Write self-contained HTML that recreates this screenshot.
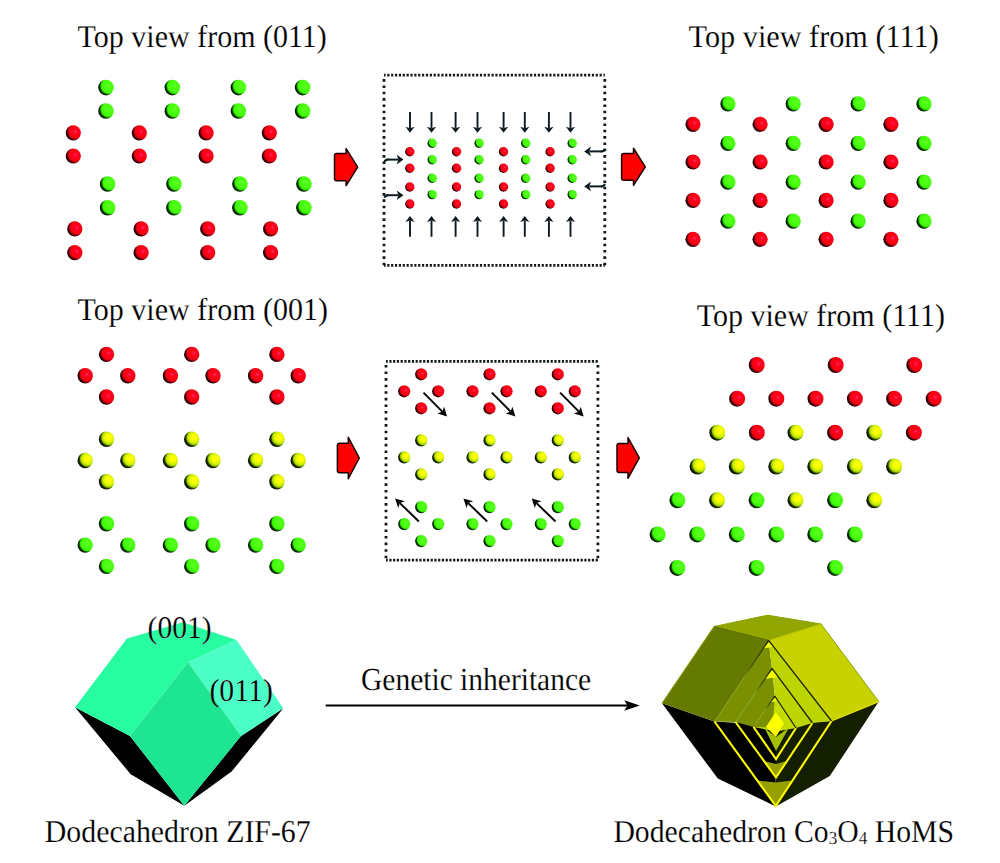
<!DOCTYPE html><html><head><meta charset="utf-8"><style>html,body{margin:0;padding:0;background:#fff;}svg{display:block;}text{font-family:"Liberation Serif",serif;text-rendering:geometricPrecision;stroke:#fff;stroke-width:0.15px;}</style></head><body>
<svg width="1000" height="863" viewBox="0 0 1000 863">
<defs>
<radialGradient id="gG" cx="0.66" cy="0.4" r="0.6" fx="0.66" fy="0.4"><stop offset="0" stop-color="#5cff20"/><stop offset="0.7" stop-color="#40ff08"/><stop offset="0.8" stop-color="#30d800"/><stop offset="0.9" stop-color="#0e5a00"/><stop offset="1" stop-color="#032000"/></radialGradient>
<radialGradient id="gR" cx="0.66" cy="0.4" r="0.6" fx="0.62" fy="0.42"><stop offset="0" stop-color="#ff3a80"/><stop offset="0.12" stop-color="#ff1040"/><stop offset="0.3" stop-color="#ff0018"/><stop offset="0.7" stop-color="#f40010"/><stop offset="0.8" stop-color="#c80012"/><stop offset="0.9" stop-color="#6a000c"/><stop offset="1" stop-color="#280004"/></radialGradient>
<radialGradient id="gY" cx="0.66" cy="0.4" r="0.6" fx="0.64" fy="0.38"><stop offset="0" stop-color="#ffff00"/><stop offset="0.3" stop-color="#faff00"/><stop offset="0.58" stop-color="#d0f000"/><stop offset="0.76" stop-color="#9ccc00"/><stop offset="0.88" stop-color="#304c00"/><stop offset="1" stop-color="#0a1600"/></radialGradient>
<linearGradient id="rimT" x1="1" y1="0" x2="0" y2="1"><stop offset="0" stop-color="#1c2400"/><stop offset="0.7" stop-color="#1c2400" stop-opacity="0.6"/><stop offset="1" stop-color="#1c2400" stop-opacity="0"/></linearGradient>
</defs>
<rect width="1000" height="863" fill="#fff"/>
<text transform="translate(77.6,46.9) scale(1.0,1.06)" font-size="30">Top view from (011)</text>
<text transform="translate(688.6,46.7) scale(1.008,1.06)" font-size="30">Top view from (111)</text>
<text transform="translate(77.6,320) scale(1.0,1.06)" font-size="30">Top view from (001)</text>
<text transform="translate(696.8,325.5) scale(1.0,1.06)" font-size="30">Top view from (111)</text>
<path d="M336.7,153.5 L346.1,153.5 L346.1,148.54999999999998 L357.7,167.1 L346.1,185.65 L346.1,180.7 L336.7,180.7 Q334.5,180.7 334.5,178.5 L334.5,155.7 Q334.5,153.5 336.7,153.5Z" fill="#ff0000" stroke="#1a0000" stroke-width="1.5" stroke-linejoin="round"/>
<path d="M623.8000000000001,153.4 L633.5,153.4 L633.5,148.20000000000002 L645.3,166.8 L633.5,185.4 L633.5,180.20000000000002 L623.8000000000001,180.20000000000002 Q621.6,180.20000000000002 621.6,178.00000000000003 L621.6,155.6 Q621.6,153.4 623.8000000000001,153.4Z" fill="#ff0000" stroke="#1a0000" stroke-width="1.5" stroke-linejoin="round"/>
<path d="M339.59999999999997,443.3 L348.3,443.3 L348.3,437.3 L359.3,458.0 L348.3,478.7 L348.3,472.7 L339.59999999999997,472.7 Q337.4,472.7 337.4,470.5 L337.4,445.5 Q337.4,443.3 339.59999999999997,443.3Z" fill="#ff0000" stroke="#1a0000" stroke-width="1.5" stroke-linejoin="round"/>
<path d="M619.2,443.4 L628.0,443.4 L628.0,437.5 L639.3,457.9 L628.0,478.29999999999995 L628.0,472.4 L619.2,472.4 Q617.0,472.4 617.0,470.2 L617.0,445.59999999999997 Q617.0,443.4 619.2,443.4Z" fill="#ff0000" stroke="#1a0000" stroke-width="1.5" stroke-linejoin="round"/>
<path d="M384,75.2 H604.8" stroke="#101818" fill="none" stroke-width="2.7" stroke-dasharray="2.2 1.66" stroke-dashoffset="0.60"/><path d="M384,265.4 H604.8" stroke="#101818" fill="none" stroke-width="2.7" stroke-dasharray="2.2 1.66" stroke-dashoffset="0.60"/><path d="M384,75.2 V265.4" stroke="#101818" fill="none" stroke-width="2.8" stroke-dasharray="2.6 3.73" stroke-dashoffset="2.43"/><path d="M604.8,75.2 V265.4" stroke="#101818" fill="none" stroke-width="2.8" stroke-dasharray="2.6 3.73" stroke-dashoffset="2.43"/>
<path d="M386,361.3 H597.9" stroke="#101818" fill="none" stroke-width="2.7" stroke-dasharray="2.2 1.55" stroke-dashoffset="0.40"/><path d="M386,560.1 H597.9" stroke="#101818" fill="none" stroke-width="2.7" stroke-dasharray="2.2 1.55" stroke-dashoffset="0.40"/><path d="M386,361.3 V560.1" stroke="#101818" fill="none" stroke-width="2.8" stroke-dasharray="2.6 3.98" stroke-dashoffset="2.98"/><path d="M597.9,361.3 V560.1" stroke="#101818" fill="none" stroke-width="2.8" stroke-dasharray="2.6 3.98" stroke-dashoffset="2.98"/>
<line x1="410.0" y1="112.0" x2="410.0" y2="128.3" stroke="#0e1a20" stroke-width="1.9"/><path d="M410.0,132.8 L405.4,126.8 L410.0,128.3 L414.6,126.8Z" fill="#0e1a20"/>
<line x1="410.0" y1="236.8" x2="410.0" y2="220.5" stroke="#0e1a20" stroke-width="1.9"/><path d="M410.0,216.0 L414.6,222.0 L410.0,220.5 L405.4,222.0Z" fill="#0e1a20"/>
<line x1="431.5" y1="112.0" x2="431.5" y2="128.3" stroke="#0e1a20" stroke-width="1.9"/><path d="M431.5,132.8 L426.9,126.8 L431.5,128.3 L436.1,126.8Z" fill="#0e1a20"/>
<line x1="431.5" y1="236.8" x2="431.5" y2="220.5" stroke="#0e1a20" stroke-width="1.9"/><path d="M431.5,216.0 L436.1,222.0 L431.5,220.5 L426.9,222.0Z" fill="#0e1a20"/>
<line x1="455.6" y1="112.0" x2="455.6" y2="128.3" stroke="#0e1a20" stroke-width="1.9"/><path d="M455.6,132.8 L451.0,126.8 L455.6,128.3 L460.2,126.8Z" fill="#0e1a20"/>
<line x1="455.6" y1="236.8" x2="455.6" y2="220.5" stroke="#0e1a20" stroke-width="1.9"/><path d="M455.6,216.0 L460.2,222.0 L455.6,220.5 L451.0,222.0Z" fill="#0e1a20"/>
<line x1="477.5" y1="112.0" x2="477.5" y2="128.3" stroke="#0e1a20" stroke-width="1.9"/><path d="M477.5,132.8 L472.9,126.8 L477.5,128.3 L482.1,126.8Z" fill="#0e1a20"/>
<line x1="477.5" y1="236.8" x2="477.5" y2="220.5" stroke="#0e1a20" stroke-width="1.9"/><path d="M477.5,216.0 L482.1,222.0 L477.5,220.5 L472.9,222.0Z" fill="#0e1a20"/>
<line x1="503.6" y1="112.0" x2="503.6" y2="128.3" stroke="#0e1a20" stroke-width="1.9"/><path d="M503.6,132.8 L499.0,126.8 L503.6,128.3 L508.2,126.8Z" fill="#0e1a20"/>
<line x1="503.6" y1="236.8" x2="503.6" y2="220.5" stroke="#0e1a20" stroke-width="1.9"/><path d="M503.6,216.0 L508.2,222.0 L503.6,220.5 L499.0,222.0Z" fill="#0e1a20"/>
<line x1="524.8" y1="112.0" x2="524.8" y2="128.3" stroke="#0e1a20" stroke-width="1.9"/><path d="M524.8,132.8 L520.2,126.8 L524.8,128.3 L529.4,126.8Z" fill="#0e1a20"/>
<line x1="524.8" y1="236.8" x2="524.8" y2="220.5" stroke="#0e1a20" stroke-width="1.9"/><path d="M524.8,216.0 L529.4,222.0 L524.8,220.5 L520.2,222.0Z" fill="#0e1a20"/>
<line x1="548.9" y1="112.0" x2="548.9" y2="128.3" stroke="#0e1a20" stroke-width="1.9"/><path d="M548.9,132.8 L544.3,126.8 L548.9,128.3 L553.5,126.8Z" fill="#0e1a20"/>
<line x1="548.9" y1="236.8" x2="548.9" y2="220.5" stroke="#0e1a20" stroke-width="1.9"/><path d="M548.9,216.0 L553.5,222.0 L548.9,220.5 L544.3,222.0Z" fill="#0e1a20"/>
<line x1="570.5" y1="112.0" x2="570.5" y2="128.3" stroke="#0e1a20" stroke-width="1.9"/><path d="M570.5,132.8 L565.9,126.8 L570.5,128.3 L575.1,126.8Z" fill="#0e1a20"/>
<line x1="570.5" y1="236.8" x2="570.5" y2="220.5" stroke="#0e1a20" stroke-width="1.9"/><path d="M570.5,216.0 L575.1,222.0 L570.5,220.5 L565.9,222.0Z" fill="#0e1a20"/>
<line x1="386.5" y1="159.6" x2="398.4" y2="159.6" stroke="#0e1a20" stroke-width="2.0"/><path d="M403.5,159.6 L396.7,164.4 L398.4,159.6 L396.7,154.8Z" fill="#0e1a20"/>
<path d="M388.5,159.6 Q384.6,159.6 384.6,162.2" stroke="#0e1a20" stroke-width="2.0" fill="none"/>
<line x1="386.5" y1="195.2" x2="398.4" y2="195.2" stroke="#0e1a20" stroke-width="2.0"/><path d="M403.5,195.2 L396.7,200.0 L398.4,195.2 L396.7,190.4Z" fill="#0e1a20"/>
<path d="M388.5,195.2 Q384.6,195.2 384.6,197.79999999999998" stroke="#0e1a20" stroke-width="2.0" fill="none"/>
<line x1="602.5" y1="151.4" x2="589.3" y2="151.4" stroke="#0e1a20" stroke-width="2.0"/><path d="M584.2,151.4 L591.0,146.6 L589.3,151.4 L591.0,156.2Z" fill="#0e1a20"/>
<path d="M600.8,151.4 Q604.7,151.4 604.7,148.8" stroke="#0e1a20" stroke-width="2.0" fill="none"/>
<line x1="602.5" y1="186.4" x2="589.3" y2="186.4" stroke="#0e1a20" stroke-width="2.0"/><path d="M584.2,186.4 L591.0,181.6 L589.3,186.4 L591.0,191.2Z" fill="#0e1a20"/>
<path d="M600.8,186.4 Q604.7,186.4 604.7,183.8" stroke="#0e1a20" stroke-width="2.0" fill="none"/>
<line x1="423.5" y1="392.6" x2="442.3" y2="411.6" stroke="#080808" stroke-width="2.0"/><path d="M447.1,416.4 L437.4,413.4 L442.3,411.6 L444.1,406.7Z" fill="#080808"/>
<line x1="418.9" y1="521.5" x2="399.9" y2="503.1" stroke="#080808" stroke-width="2.0"/><path d="M395.1,498.4 L404.9,501.3 L399.9,503.1 L398.2,508.1Z" fill="#080808"/>
<line x1="491.8" y1="392.6" x2="510.6" y2="411.6" stroke="#080808" stroke-width="2.0"/><path d="M515.4,416.4 L505.7,413.4 L510.6,411.6 L512.4,406.7Z" fill="#080808"/>
<line x1="487.2" y1="521.5" x2="468.2" y2="503.1" stroke="#080808" stroke-width="2.0"/><path d="M463.4,498.4 L473.2,501.3 L468.2,503.1 L466.5,508.1Z" fill="#080808"/>
<line x1="560.1" y1="392.6" x2="578.9" y2="411.6" stroke="#080808" stroke-width="2.0"/><path d="M583.7,416.4 L574.0,413.4 L578.9,411.6 L580.7,406.7Z" fill="#080808"/>
<line x1="555.5" y1="521.5" x2="536.5" y2="503.1" stroke="#080808" stroke-width="2.0"/><path d="M531.7,498.4 L541.5,501.3 L536.5,503.1 L534.8,508.1Z" fill="#080808"/>
<circle cx="106.0" cy="87.6" r="7.8" fill="url(#gG)"/>
<circle cx="172.3" cy="87.6" r="7.8" fill="url(#gG)"/>
<circle cx="238.4" cy="87.6" r="7.8" fill="url(#gG)"/>
<circle cx="302.6" cy="87.6" r="7.8" fill="url(#gG)"/>
<circle cx="106.0" cy="111.0" r="7.8" fill="url(#gG)"/>
<circle cx="172.3" cy="111.0" r="7.8" fill="url(#gG)"/>
<circle cx="238.4" cy="111.0" r="7.8" fill="url(#gG)"/>
<circle cx="302.6" cy="111.0" r="7.8" fill="url(#gG)"/>
<circle cx="73.3" cy="132.8" r="7.6" fill="url(#gR)"/>
<circle cx="139.3" cy="132.8" r="7.6" fill="url(#gR)"/>
<circle cx="206.1" cy="132.8" r="7.6" fill="url(#gR)"/>
<circle cx="269.3" cy="132.8" r="7.6" fill="url(#gR)"/>
<circle cx="73.3" cy="156.0" r="7.6" fill="url(#gR)"/>
<circle cx="139.3" cy="156.0" r="7.6" fill="url(#gR)"/>
<circle cx="206.1" cy="156.0" r="7.6" fill="url(#gR)"/>
<circle cx="269.3" cy="156.0" r="7.6" fill="url(#gR)"/>
<circle cx="107.6" cy="184.0" r="7.8" fill="url(#gG)"/>
<circle cx="173.9" cy="184.0" r="7.8" fill="url(#gG)"/>
<circle cx="239.9" cy="184.0" r="7.8" fill="url(#gG)"/>
<circle cx="303.9" cy="184.0" r="7.8" fill="url(#gG)"/>
<circle cx="107.6" cy="207.7" r="7.8" fill="url(#gG)"/>
<circle cx="173.9" cy="207.7" r="7.8" fill="url(#gG)"/>
<circle cx="239.9" cy="207.7" r="7.8" fill="url(#gG)"/>
<circle cx="303.9" cy="207.7" r="7.8" fill="url(#gG)"/>
<circle cx="74.8" cy="228.9" r="7.6" fill="url(#gR)"/>
<circle cx="141.1" cy="228.9" r="7.6" fill="url(#gR)"/>
<circle cx="207.7" cy="228.9" r="7.6" fill="url(#gR)"/>
<circle cx="270.6" cy="228.9" r="7.6" fill="url(#gR)"/>
<circle cx="74.8" cy="252.6" r="7.6" fill="url(#gR)"/>
<circle cx="141.1" cy="252.6" r="7.6" fill="url(#gR)"/>
<circle cx="207.7" cy="252.6" r="7.6" fill="url(#gR)"/>
<circle cx="270.6" cy="252.6" r="7.6" fill="url(#gR)"/>
<circle cx="409.8" cy="151.8" r="4.7" fill="url(#gR)"/>
<circle cx="409.8" cy="168.3" r="4.7" fill="url(#gR)"/>
<circle cx="409.8" cy="187.0" r="4.7" fill="url(#gR)"/>
<circle cx="409.8" cy="204.0" r="4.7" fill="url(#gR)"/>
<circle cx="456.5" cy="151.8" r="4.7" fill="url(#gR)"/>
<circle cx="456.5" cy="168.3" r="4.7" fill="url(#gR)"/>
<circle cx="456.5" cy="187.0" r="4.7" fill="url(#gR)"/>
<circle cx="456.5" cy="204.0" r="4.7" fill="url(#gR)"/>
<circle cx="503.5" cy="151.8" r="4.7" fill="url(#gR)"/>
<circle cx="503.5" cy="168.3" r="4.7" fill="url(#gR)"/>
<circle cx="503.5" cy="187.0" r="4.7" fill="url(#gR)"/>
<circle cx="503.5" cy="204.0" r="4.7" fill="url(#gR)"/>
<circle cx="550.1" cy="151.8" r="4.7" fill="url(#gR)"/>
<circle cx="550.1" cy="168.3" r="4.7" fill="url(#gR)"/>
<circle cx="550.1" cy="187.0" r="4.7" fill="url(#gR)"/>
<circle cx="550.1" cy="204.0" r="4.7" fill="url(#gR)"/>
<circle cx="432.2" cy="143.2" r="4.7" fill="url(#gG)"/>
<circle cx="432.2" cy="159.8" r="4.7" fill="url(#gG)"/>
<circle cx="432.2" cy="178.3" r="4.7" fill="url(#gG)"/>
<circle cx="432.2" cy="194.6" r="4.7" fill="url(#gG)"/>
<circle cx="479.1" cy="143.2" r="4.7" fill="url(#gG)"/>
<circle cx="479.1" cy="159.8" r="4.7" fill="url(#gG)"/>
<circle cx="479.1" cy="178.3" r="4.7" fill="url(#gG)"/>
<circle cx="479.1" cy="194.6" r="4.7" fill="url(#gG)"/>
<circle cx="525.7" cy="143.2" r="4.7" fill="url(#gG)"/>
<circle cx="525.7" cy="159.8" r="4.7" fill="url(#gG)"/>
<circle cx="525.7" cy="178.3" r="4.7" fill="url(#gG)"/>
<circle cx="525.7" cy="194.6" r="4.7" fill="url(#gG)"/>
<circle cx="572.2" cy="143.2" r="4.7" fill="url(#gG)"/>
<circle cx="572.2" cy="159.8" r="4.7" fill="url(#gG)"/>
<circle cx="572.2" cy="178.3" r="4.7" fill="url(#gG)"/>
<circle cx="572.2" cy="194.6" r="4.7" fill="url(#gG)"/>
<circle cx="727.9" cy="103.9" r="7.6" fill="url(#gG)"/>
<circle cx="727.9" cy="143.4" r="7.6" fill="url(#gG)"/>
<circle cx="727.9" cy="182.2" r="7.6" fill="url(#gG)"/>
<circle cx="727.9" cy="221.2" r="7.6" fill="url(#gG)"/>
<circle cx="793.2" cy="103.9" r="7.6" fill="url(#gG)"/>
<circle cx="793.2" cy="143.4" r="7.6" fill="url(#gG)"/>
<circle cx="793.2" cy="182.2" r="7.6" fill="url(#gG)"/>
<circle cx="793.2" cy="221.2" r="7.6" fill="url(#gG)"/>
<circle cx="858.1" cy="103.9" r="7.6" fill="url(#gG)"/>
<circle cx="858.1" cy="143.4" r="7.6" fill="url(#gG)"/>
<circle cx="858.1" cy="182.2" r="7.6" fill="url(#gG)"/>
<circle cx="858.1" cy="221.2" r="7.6" fill="url(#gG)"/>
<circle cx="924.0" cy="103.9" r="7.6" fill="url(#gG)"/>
<circle cx="924.0" cy="143.4" r="7.6" fill="url(#gG)"/>
<circle cx="924.0" cy="182.2" r="7.6" fill="url(#gG)"/>
<circle cx="924.0" cy="221.2" r="7.6" fill="url(#gG)"/>
<circle cx="693.0" cy="124.3" r="7.6" fill="url(#gR)"/>
<circle cx="693.0" cy="162.0" r="7.6" fill="url(#gR)"/>
<circle cx="693.0" cy="200.4" r="7.6" fill="url(#gR)"/>
<circle cx="693.0" cy="239.3" r="7.6" fill="url(#gR)"/>
<circle cx="760.1" cy="124.3" r="7.6" fill="url(#gR)"/>
<circle cx="760.1" cy="162.0" r="7.6" fill="url(#gR)"/>
<circle cx="760.1" cy="200.4" r="7.6" fill="url(#gR)"/>
<circle cx="760.1" cy="239.3" r="7.6" fill="url(#gR)"/>
<circle cx="826.1" cy="124.3" r="7.6" fill="url(#gR)"/>
<circle cx="826.1" cy="162.0" r="7.6" fill="url(#gR)"/>
<circle cx="826.1" cy="200.4" r="7.6" fill="url(#gR)"/>
<circle cx="826.1" cy="239.3" r="7.6" fill="url(#gR)"/>
<circle cx="890.9" cy="124.3" r="7.6" fill="url(#gR)"/>
<circle cx="890.9" cy="162.0" r="7.6" fill="url(#gR)"/>
<circle cx="890.9" cy="200.4" r="7.6" fill="url(#gR)"/>
<circle cx="890.9" cy="239.3" r="7.6" fill="url(#gR)"/>
<circle cx="106.5" cy="354.4" r="7.7" fill="url(#gR)"/>
<circle cx="85.2" cy="375.7" r="7.7" fill="url(#gR)"/>
<circle cx="127.8" cy="375.7" r="7.7" fill="url(#gR)"/>
<circle cx="106.5" cy="397.0" r="7.7" fill="url(#gR)"/>
<circle cx="191.7" cy="354.4" r="7.7" fill="url(#gR)"/>
<circle cx="170.4" cy="375.7" r="7.7" fill="url(#gR)"/>
<circle cx="213.0" cy="375.7" r="7.7" fill="url(#gR)"/>
<circle cx="191.7" cy="397.0" r="7.7" fill="url(#gR)"/>
<circle cx="276.9" cy="354.4" r="7.7" fill="url(#gR)"/>
<circle cx="255.6" cy="375.7" r="7.7" fill="url(#gR)"/>
<circle cx="298.2" cy="375.7" r="7.7" fill="url(#gR)"/>
<circle cx="276.9" cy="397.0" r="7.7" fill="url(#gR)"/>
<circle cx="106.5" cy="439.2" r="7.7" fill="url(#gY)"/>
<circle cx="85.2" cy="460.5" r="7.7" fill="url(#gY)"/>
<circle cx="127.8" cy="460.5" r="7.7" fill="url(#gY)"/>
<circle cx="106.5" cy="481.8" r="7.7" fill="url(#gY)"/>
<circle cx="191.7" cy="439.2" r="7.7" fill="url(#gY)"/>
<circle cx="170.4" cy="460.5" r="7.7" fill="url(#gY)"/>
<circle cx="213.0" cy="460.5" r="7.7" fill="url(#gY)"/>
<circle cx="191.7" cy="481.8" r="7.7" fill="url(#gY)"/>
<circle cx="276.9" cy="439.2" r="7.7" fill="url(#gY)"/>
<circle cx="255.6" cy="460.5" r="7.7" fill="url(#gY)"/>
<circle cx="298.2" cy="460.5" r="7.7" fill="url(#gY)"/>
<circle cx="276.9" cy="481.8" r="7.7" fill="url(#gY)"/>
<circle cx="106.5" cy="523.8" r="7.7" fill="url(#gG)"/>
<circle cx="85.2" cy="545.1" r="7.7" fill="url(#gG)"/>
<circle cx="127.8" cy="545.1" r="7.7" fill="url(#gG)"/>
<circle cx="106.5" cy="566.4" r="7.7" fill="url(#gG)"/>
<circle cx="191.7" cy="523.8" r="7.7" fill="url(#gG)"/>
<circle cx="170.4" cy="545.1" r="7.7" fill="url(#gG)"/>
<circle cx="213.0" cy="545.1" r="7.7" fill="url(#gG)"/>
<circle cx="191.7" cy="566.4" r="7.7" fill="url(#gG)"/>
<circle cx="276.9" cy="523.8" r="7.7" fill="url(#gG)"/>
<circle cx="255.6" cy="545.1" r="7.7" fill="url(#gG)"/>
<circle cx="298.2" cy="545.1" r="7.7" fill="url(#gG)"/>
<circle cx="276.9" cy="566.4" r="7.7" fill="url(#gG)"/>
<circle cx="421.2" cy="374.3" r="6.1" fill="url(#gR)"/>
<circle cx="404.2" cy="391.3" r="6.1" fill="url(#gR)"/>
<circle cx="438.2" cy="391.3" r="6.1" fill="url(#gR)"/>
<circle cx="421.2" cy="408.3" r="6.1" fill="url(#gR)"/>
<circle cx="489.5" cy="374.3" r="6.1" fill="url(#gR)"/>
<circle cx="472.5" cy="391.3" r="6.1" fill="url(#gR)"/>
<circle cx="506.5" cy="391.3" r="6.1" fill="url(#gR)"/>
<circle cx="489.5" cy="408.3" r="6.1" fill="url(#gR)"/>
<circle cx="557.8" cy="374.3" r="6.1" fill="url(#gR)"/>
<circle cx="540.8" cy="391.3" r="6.1" fill="url(#gR)"/>
<circle cx="574.8" cy="391.3" r="6.1" fill="url(#gR)"/>
<circle cx="557.8" cy="408.3" r="6.1" fill="url(#gR)"/>
<circle cx="421.2" cy="440.4" r="6.1" fill="url(#gY)"/>
<circle cx="404.2" cy="457.4" r="6.1" fill="url(#gY)"/>
<circle cx="438.2" cy="457.4" r="6.1" fill="url(#gY)"/>
<circle cx="421.2" cy="474.4" r="6.1" fill="url(#gY)"/>
<circle cx="489.5" cy="440.4" r="6.1" fill="url(#gY)"/>
<circle cx="472.5" cy="457.4" r="6.1" fill="url(#gY)"/>
<circle cx="506.5" cy="457.4" r="6.1" fill="url(#gY)"/>
<circle cx="489.5" cy="474.4" r="6.1" fill="url(#gY)"/>
<circle cx="557.8" cy="440.4" r="6.1" fill="url(#gY)"/>
<circle cx="540.8" cy="457.4" r="6.1" fill="url(#gY)"/>
<circle cx="574.8" cy="457.4" r="6.1" fill="url(#gY)"/>
<circle cx="557.8" cy="474.4" r="6.1" fill="url(#gY)"/>
<circle cx="421.2" cy="507.1" r="6.1" fill="url(#gG)"/>
<circle cx="404.2" cy="524.1" r="6.1" fill="url(#gG)"/>
<circle cx="438.2" cy="524.1" r="6.1" fill="url(#gG)"/>
<circle cx="421.2" cy="541.1" r="6.1" fill="url(#gG)"/>
<circle cx="489.5" cy="507.1" r="6.1" fill="url(#gG)"/>
<circle cx="472.5" cy="524.1" r="6.1" fill="url(#gG)"/>
<circle cx="506.5" cy="524.1" r="6.1" fill="url(#gG)"/>
<circle cx="489.5" cy="541.1" r="6.1" fill="url(#gG)"/>
<circle cx="557.8" cy="507.1" r="6.1" fill="url(#gG)"/>
<circle cx="540.8" cy="524.1" r="6.1" fill="url(#gG)"/>
<circle cx="574.8" cy="524.1" r="6.1" fill="url(#gG)"/>
<circle cx="557.8" cy="541.1" r="6.1" fill="url(#gG)"/>
<circle cx="756.7" cy="365.0" r="8.0" fill="url(#gR)"/>
<circle cx="835.7" cy="365.0" r="8.0" fill="url(#gR)"/>
<circle cx="914.3" cy="365.0" r="8.0" fill="url(#gR)"/>
<circle cx="737.1" cy="398.7" r="8.0" fill="url(#gR)"/>
<circle cx="776.3" cy="398.7" r="8.0" fill="url(#gR)"/>
<circle cx="815.5" cy="398.7" r="8.0" fill="url(#gR)"/>
<circle cx="854.9" cy="398.7" r="8.0" fill="url(#gR)"/>
<circle cx="894.1" cy="398.7" r="8.0" fill="url(#gR)"/>
<circle cx="933.7" cy="398.7" r="8.0" fill="url(#gR)"/>
<circle cx="717.3" cy="432.7" r="8.0" fill="url(#gY)"/>
<circle cx="756.8" cy="432.7" r="8.0" fill="url(#gR)"/>
<circle cx="795.5" cy="432.7" r="8.0" fill="url(#gY)"/>
<circle cx="835.1" cy="432.7" r="8.0" fill="url(#gR)"/>
<circle cx="874.3" cy="432.7" r="8.0" fill="url(#gY)"/>
<circle cx="913.9" cy="432.7" r="8.0" fill="url(#gR)"/>
<circle cx="697.6" cy="466.5" r="8.0" fill="url(#gY)"/>
<circle cx="736.8" cy="466.5" r="8.0" fill="url(#gY)"/>
<circle cx="776.3" cy="466.5" r="8.0" fill="url(#gY)"/>
<circle cx="815.3" cy="466.5" r="8.0" fill="url(#gY)"/>
<circle cx="854.9" cy="466.5" r="8.0" fill="url(#gY)"/>
<circle cx="894.1" cy="466.5" r="8.0" fill="url(#gY)"/>
<circle cx="677.4" cy="500.3" r="8.0" fill="url(#gG)"/>
<circle cx="717.0" cy="500.3" r="8.0" fill="url(#gY)"/>
<circle cx="756.6" cy="500.3" r="8.0" fill="url(#gG)"/>
<circle cx="795.5" cy="500.3" r="8.0" fill="url(#gY)"/>
<circle cx="835.1" cy="500.3" r="8.0" fill="url(#gG)"/>
<circle cx="874.3" cy="500.3" r="8.0" fill="url(#gY)"/>
<circle cx="657.6" cy="534.4" r="8.0" fill="url(#gG)"/>
<circle cx="697.2" cy="534.4" r="8.0" fill="url(#gG)"/>
<circle cx="736.8" cy="534.4" r="8.0" fill="url(#gG)"/>
<circle cx="776.4" cy="534.4" r="8.0" fill="url(#gG)"/>
<circle cx="815.3" cy="534.4" r="8.0" fill="url(#gG)"/>
<circle cx="854.9" cy="534.4" r="8.0" fill="url(#gG)"/>
<circle cx="677.4" cy="567.9" r="8.0" fill="url(#gG)"/>
<circle cx="756.6" cy="567.9" r="8.0" fill="url(#gG)"/>
<circle cx="835.1" cy="567.9" r="8.0" fill="url(#gG)"/>
<polygon points="75.0,707.3 130.0,736.0 184.3,805.7 130.7,774.3" fill="#000"/>
<polygon points="283.3,708.3 241.0,736.0 184.3,805.7 231.6,771.6" fill="#000"/>
<polygon points="75.0,707.3 127.0,638.5 183.0,622.2 236.5,640.0 188.0,662.3 130.0,736.0" fill="#27fca0"/>
<polygon points="188.0,662.3 236.5,640.0 283.3,708.3 241.0,736.0" fill="#4afec6"/>
<polygon points="188.0,662.3 241.0,736.0 184.3,805.7 130.0,736.0" fill="#1ee592"/>
<text transform="translate(147.6,638.4) scale(1.0,1.065)" font-size="29.6">(001)</text>
<text transform="translate(209.4,700.6) scale(1.0,1.065)" font-size="29.8">(011)</text>
<line x1="325.7" y1="705.5" x2="628" y2="705.5" stroke="#000" stroke-width="1.8"/>
<path d="M639.8,705.5 L624.2,700.3 L627.6,705.5 L624.2,710.7Z" fill="#000"/>
<text transform="translate(361,690) scale(1.0,1.09)" font-size="29.5">Genetic inheritance</text>
<polygon points="662.0,703.2 714.5,721.5 775.8,806.5 717.8,778.6" fill="#000"/>
<polygon points="878.8,701.6 831.5,721.0 775.8,806.5 829.8,776.0" fill="#141e00"/>
<polygon points="714.0,626.5 767.6,615.2 821.0,624.0 768.6,640.4" fill="#92a600"/>
<polygon points="662.0,703.2 714.0,626.5 768.6,640.4 714.5,721.5" fill="#657a00"/>
<polygon points="768.6,640.4 821.0,624.0 878.8,701.6 831.5,721.0" fill="#c8d200"/>
<polyline points="662,703.2 714,626.5 767.6,615.2 821,624 878.8,701.6" fill="none" stroke="#8aa400" stroke-width="1" stroke-linejoin="round"/>
<line x1="878.8" y1="701.6" x2="831.5" y2="721" stroke="#e0e000" stroke-width="1.2"/>
<line x1="714" y1="626.5" x2="768.6" y2="640.4" stroke="#5a6c00" stroke-width="1"/>
<line x1="821" y1="624" x2="768.6" y2="640.4" stroke="#b0c000" stroke-width="1"/>
<polygon points="714.5,721.5 774.0,725.2 775.8,806.0" fill="#000"/>
<polygon points="774.0,725.2 831.5,721.0 775.8,806.0" fill="#141e00"/>
<polygon points="768.6,640.4 714.5,721.5 735.5,722.0 772.0,668.3" fill="#7a9000"/>
<polygon points="768.6,640.4 772.0,668.3 812.5,723.0 831.5,721.0" fill="#bcd400"/>
<polygon points="757.4,780.6 775.8,806.0 792.5,780.5 776.0,782.5" fill="#96a000"/>
<polygon points="768.6,642.4 773.6,646.8 763.2,648.5" fill="#f4f800"/>
<polyline points="714.5,721.5 775.8,806.0 831.5,721.0" fill="none" stroke="#ffff00" stroke-width="2.1"/>
<line x1="768.6" y1="640.4" x2="831.5" y2="721" stroke="#1c2400" stroke-width="1.3"/>
<line x1="768.6" y1="640.4" x2="744.3" y2="676.9" stroke="url(#rimT)" stroke-width="1.3"/>
<line x1="714.5" y1="721.5" x2="744.3" y2="676.9" stroke="url(#rimL)" stroke-width="1.6"/>
<polygon points="735.5,722.0 775.0,726.5 776.0,777.5" fill="#000"/>
<polygon points="775.0,726.5 812.5,723.0 776.0,777.5" fill="#141e00"/>
<polygon points="772.0,668.3 735.5,722.0 753.5,727.0 774.8,696.0" fill="#7a9000"/>
<polygon points="772.0,668.3 774.8,696.0 796.0,728.0 812.5,723.0" fill="#bcd400"/>
<polygon points="763.9,760.9 776.0,777.5 787.0,761.1 776.0,764.0" fill="#96a000"/>
<polygon points="772.0,670.3 778.5,677.1 764.7,679.0" fill="#f4f800"/>
<polyline points="735.5,722.0 776.0,777.5 812.5,723.0" fill="none" stroke="#ffff00" stroke-width="2.1"/>
<line x1="772" y1="668.3" x2="812.5" y2="723" stroke="#1c2400" stroke-width="1.3"/>
<line x1="772" y1="668.3" x2="755.6" y2="692.5" stroke="url(#rimT)" stroke-width="1.3"/>
<line x1="735.5" y1="722" x2="755.6" y2="692.5" stroke="url(#rimL)" stroke-width="1.6"/>
<polygon points="753.5,727.0 775.8,731.5 776.0,759.0" fill="#000"/>
<polygon points="775.8,731.5 796.0,728.0 776.0,759.0" fill="#141e00"/>
<polygon points="774.8,696.0 753.5,727.0 775.8,731.5 796.0,728.0" fill="#c4dc00"/>
<polygon points="774.8,696.0 753.5,727.0 772.6,727.5" fill="#7a9000"/>
<polygon points="764.5,728.0 776.0,751.0 789.0,727.5 776.0,737.0" fill="#a4c000"/>
<polygon points="774.8,698.0 778.2,701.1 770.5,702.2" fill="#f4f800"/>
<polyline points="753.5,727.0 776.0,759.0 796.0,728.0" fill="none" stroke="#ffff00" stroke-width="2.1"/>
<line x1="774.8" y1="696" x2="796" y2="728" stroke="#1c2400" stroke-width="1.3"/>
<line x1="774.8" y1="696" x2="765.2" y2="710.0" stroke="url(#rimT)" stroke-width="1.3"/>
<line x1="753.5" y1="727" x2="765.2" y2="710.0" stroke="url(#rimL)" stroke-width="1.6"/>
<polygon points="775.8,712.3 784.0,723.5 775.8,737.0 766.0,726.8" fill="#ffff00"/>
<text transform="translate(44.8,841.8) scale(1.008,1.08)" font-size="29.6">Dodecahedron ZIF-67</text>
<text transform="translate(613.4,842) scale(1.007,1.08)" font-size="29.5">Dodecahedron Co<tspan font-size="17" dy="2.2">3</tspan><tspan dy="-2.2">O</tspan><tspan font-size="17" dy="2.2">4</tspan><tspan dy="-2.2"> HoMS</tspan></text>
</svg></body></html>
